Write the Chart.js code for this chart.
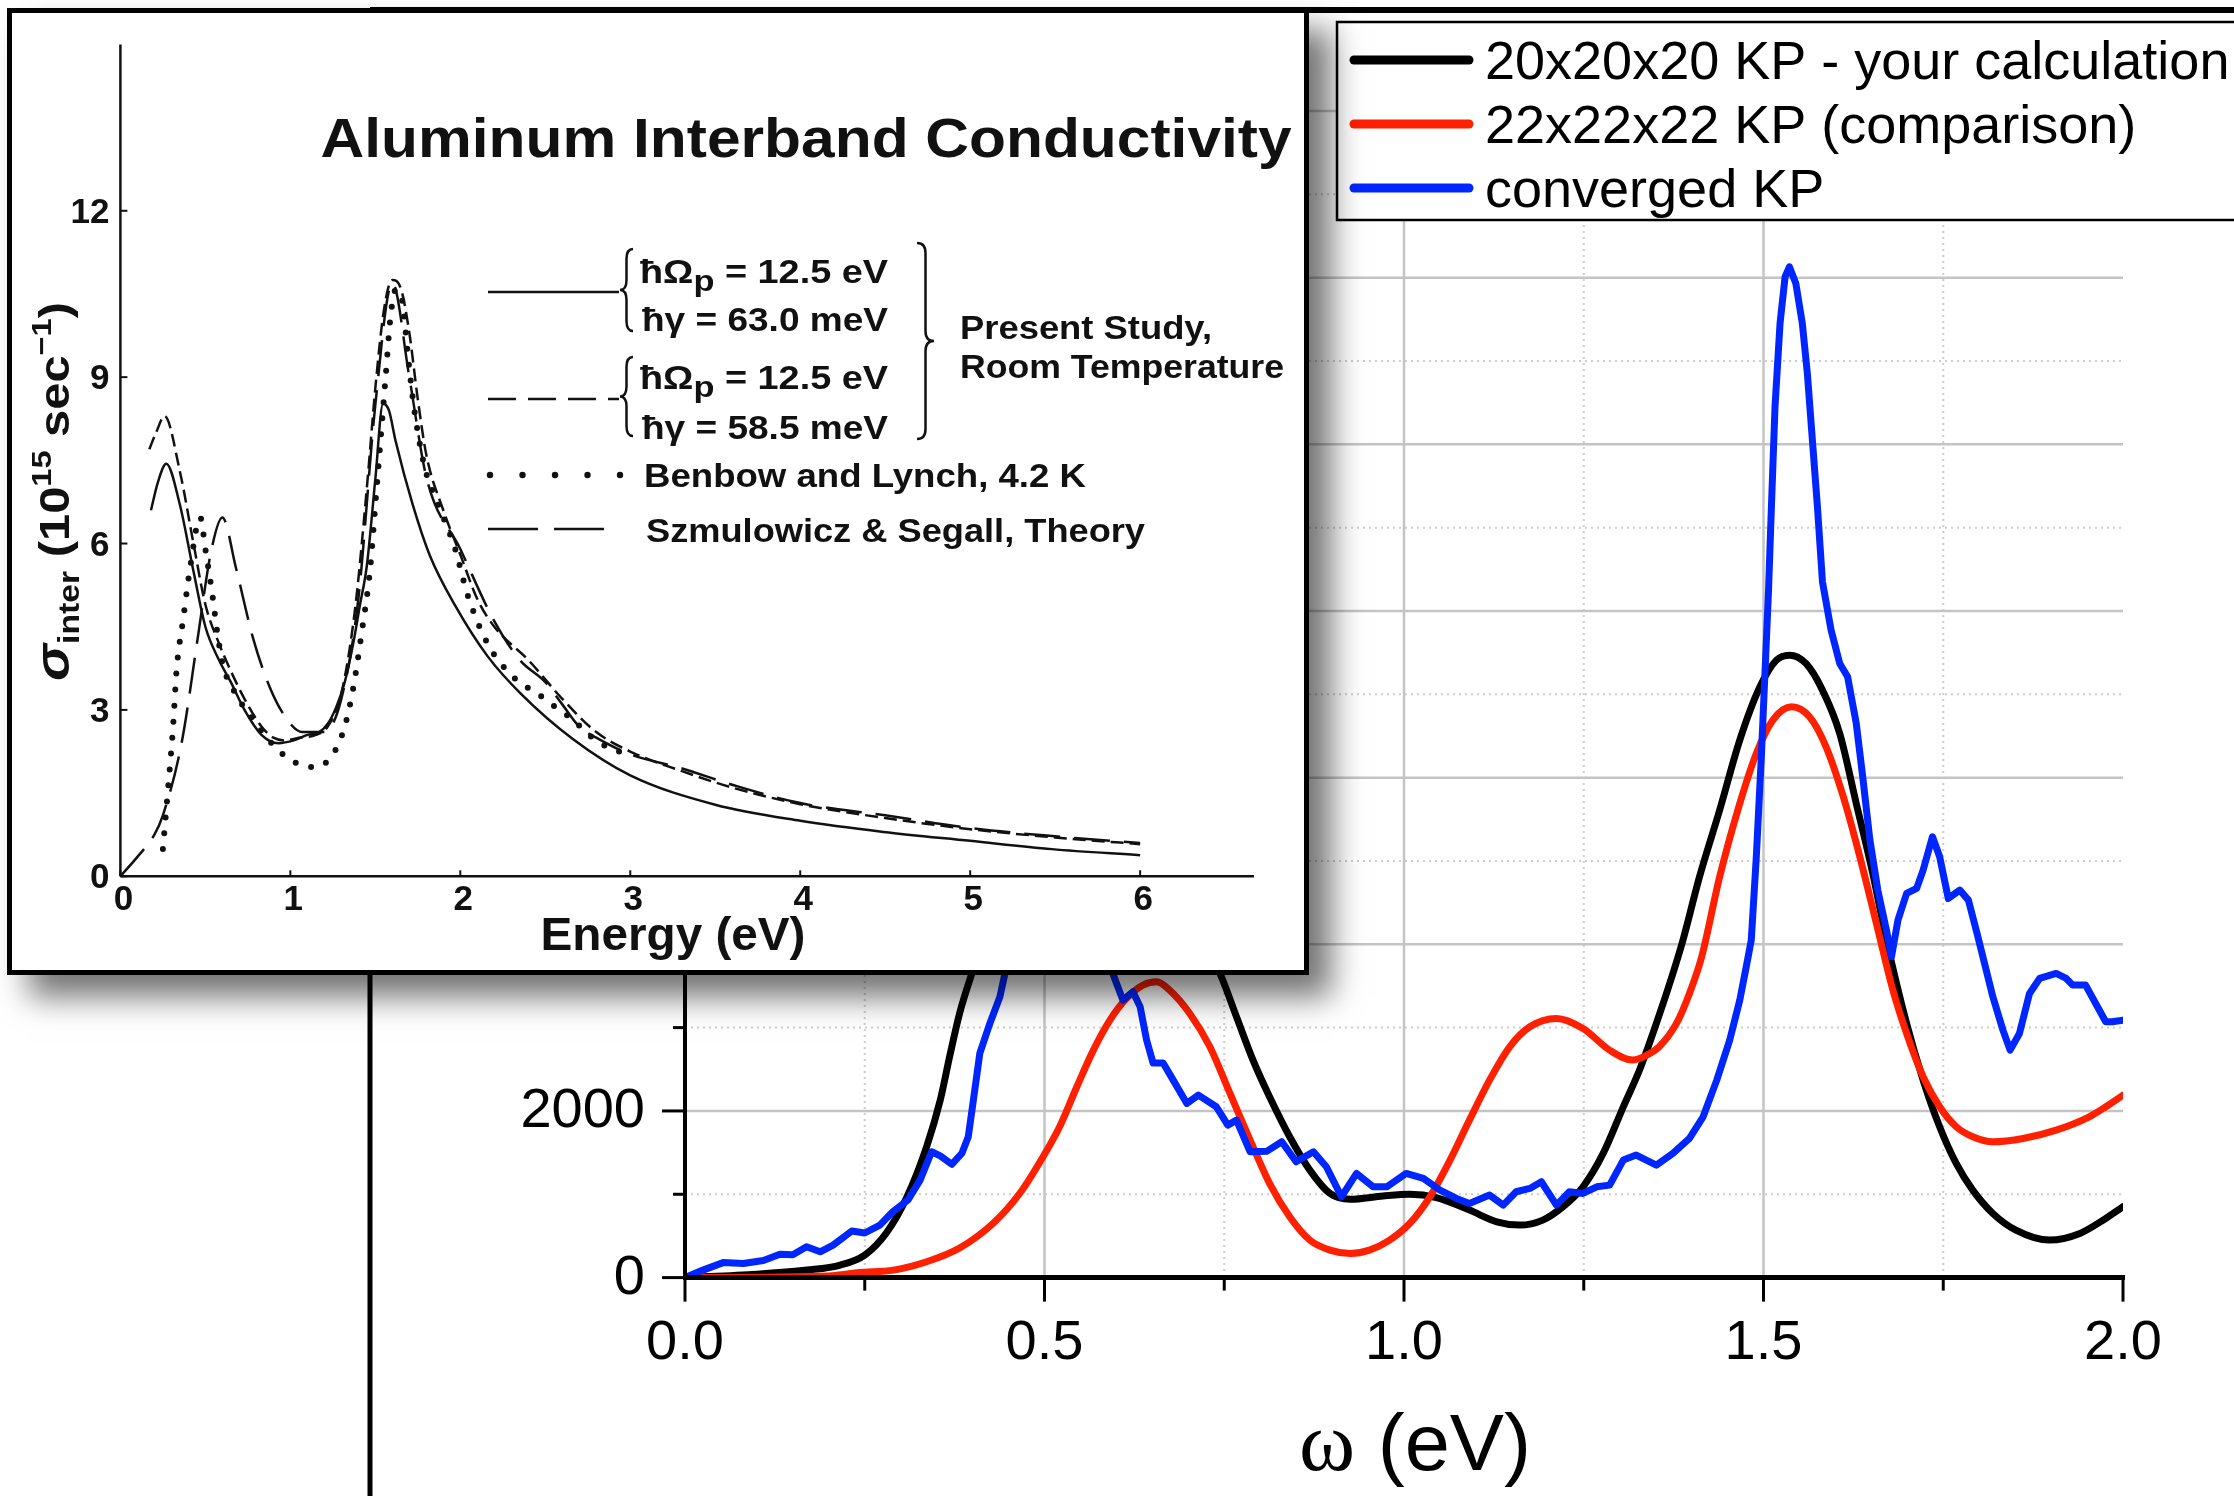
<!DOCTYPE html>
<html><head><meta charset="utf-8">
<script src="https://cdn.jsdelivr.net/npm/chart.js@4.4.1/dist/chart.umd.min.js"></script>
<style>
html,body{margin:0;padding:0;background:#fff;overflow:hidden;width:2234px;height:1496px;}
#main{position:absolute;left:0;top:0;}
#insetBox{position:absolute;left:7px;top:8px;width:1302px;height:967px;box-sizing:border-box;border:5px solid #000;background:#fff;box-shadow:22px 22px 30px rgba(0,0,0,0.55);}
#inset{position:absolute;left:0;top:0;}
</style></head><body>
<canvas id="main" width="2234" height="1496"></canvas>
<div id="insetBox"><canvas id="inset" width="1292" height="957"></canvas></div>
<script>
// ---------------- MAIN CHART DATA ----------------
const seriesNames = ['20x20x20 KP - your calculation', '22x22x22 KP (comparison)', 'converged KP'];

const blackX = [0, 0.1, 0.17, 0.216, 0.25, 0.28, 0.308, 0.336, 0.355, 0.368, 0.382, 0.399, 0.43, 0.47, 0.52, 0.57, 0.62, 0.67, 0.71, 0.744, 0.767, 0.79, 0.813, 0.841, 0.869, 0.897, 0.925, 0.971, 1.008, 1.045, 1.091, 1.129, 1.161, 1.193, 1.221, 1.249, 1.277, 1.305, 1.328, 1.351, 1.374, 1.388, 1.411, 1.439, 1.467, 1.495, 1.518, 1.536, 1.559, 1.582, 1.606, 1.629, 1.652, 1.671, 1.699, 1.722, 1.745, 1.768, 1.791, 1.819, 1.851, 1.898, 1.94, 1.976, 2.0];
const blackY = [0, 40, 90, 150, 270, 535, 955, 1570, 2130, 2650, 3175, 3650, 4400, 5400, 6100, 6300, 5900, 4900, 4200, 3650, 3130, 2610, 2170, 1690, 1290, 1010, 940, 980, 1000, 960, 810, 670, 630, 690, 850, 1090, 1490, 2050, 2500, 3050, 3650, 4050, 4810, 5610, 6450, 7090, 7410, 7470, 7370, 7050, 6530, 5690, 4850, 4050, 3050, 2370, 1810, 1370, 1050, 770, 570, 450, 530, 710, 850];

const redX = [0, 0.2, 0.243, 0.29, 0.336, 0.382, 0.429, 0.466, 0.498, 0.521, 0.545, 0.568, 0.591, 0.614, 0.637, 0.656, 0.674, 0.702, 0.73, 0.758, 0.786, 0.813, 0.841, 0.869, 0.897, 0.925, 0.952, 0.98, 1.008, 1.036, 1.064, 1.091, 1.119, 1.147, 1.175, 1.212, 1.249, 1.286, 1.318, 1.342, 1.355, 1.379, 1.397, 1.414, 1.439, 1.467, 1.49, 1.513, 1.539, 1.564, 1.587, 1.611, 1.634, 1.657, 1.68, 1.699, 1.722, 1.745, 1.768, 1.791, 1.819, 1.861, 1.907, 1.953, 1.976, 2.0];
const redY = [0, 20, 60, 90, 190, 355, 655, 1015, 1450, 1810, 2290, 2730, 3090, 3350, 3510, 3550, 3450, 3170, 2770, 2210, 1650, 1130, 730, 450, 330, 290, 330, 450, 650, 970, 1410, 1890, 2370, 2770, 3010, 3110, 2990, 2730, 2610, 2690, 2770, 3050, 3410, 3850, 4810, 5690, 6290, 6690, 6850, 6730, 6370, 5770, 5050, 4250, 3450, 2930, 2410, 2050, 1810, 1690, 1630, 1670, 1770, 1930, 2050, 2190];

const blueX = [0, 0.025, 0.053, 0.081, 0.109, 0.132, 0.15, 0.169, 0.188, 0.206, 0.232, 0.25, 0.271, 0.289, 0.31, 0.327, 0.343, 0.355, 0.371, 0.385, 0.394, 0.403, 0.41, 0.424, 0.438, 0.445, 0.47, 0.5, 0.53, 0.56, 0.58, 0.595, 0.609, 0.623, 0.633, 0.642, 0.651, 0.665, 0.679, 0.698, 0.714, 0.739, 0.755, 0.767, 0.786, 0.809, 0.83, 0.85, 0.874, 0.892, 0.913, 0.934, 0.957, 0.976, 1.003, 1.027, 1.05, 1.073, 1.091, 1.119, 1.138, 1.156, 1.175, 1.191, 1.212, 1.23, 1.249, 1.268, 1.286, 1.305, 1.323, 1.351, 1.374, 1.397, 1.416, 1.435, 1.453, 1.467, 1.476, 1.483, 1.49, 1.497, 1.503, 1.507, 1.511, 1.516, 1.523, 1.53, 1.536, 1.545, 1.554, 1.561, 1.568, 1.575, 1.582, 1.594, 1.606, 1.617, 1.629, 1.638, 1.648, 1.659, 1.671, 1.678, 1.687, 1.699, 1.713, 1.722, 1.735, 1.745, 1.757, 1.773, 1.785, 1.797, 1.819, 1.833, 1.843, 1.856, 1.87, 1.884, 1.907, 1.921, 1.93, 1.948, 1.962, 1.976, 1.985, 2.0];
const blueY = [0, 90, 180, 170, 205, 280, 275, 370, 310, 390, 560, 535, 630, 790, 930, 1170, 1510, 1460, 1360, 1490, 1690, 2250, 2690, 3050, 3370, 3650, 5200, 7000, 7300, 6000, 4500, 3650, 3330, 3430, 3250, 2850, 2575, 2575, 2370, 2090, 2190, 2050, 1830, 1890, 1510, 1515, 1630, 1390, 1510, 1330, 970, 1250, 1090, 1090, 1250, 1190, 1050, 950, 890, 990, 870, 1030, 1070, 1150, 870, 1030, 1010, 1090, 1110, 1410, 1470, 1350, 1490, 1670, 1930, 2370, 2850, 3330, 3730, 4050, 5050, 6250, 7450, 8250, 9250, 10450, 11450, 12010, 12130, 11930, 11450, 10850, 10050, 9250, 8350, 7770, 7370, 7210, 6650, 6010, 5250, 4650, 4170, 3850, 4290, 4610, 4670, 4890, 5290, 5050, 4550, 4650, 4530, 4130, 3370, 2970, 2730, 2930, 3410, 3590, 3650, 3590, 3510, 3510, 3290, 3070, 3070, 3090];

const mainXTicks = [0, 0.25, 0.5, 0.75, 1.0, 1.25, 1.5, 1.75, 2.0];
const mainXLabels = ['0.0', '', '0.5', '', '1.0', '', '1.5', '', '2.0'];
const mainYTicks = [0, 1000, 2000, 3000, 4000, 5000, 6000, 7000, 8000, 9000, 10000, 11000, 12000, 13000, 14000];
const mainYLabels = ['0', '', '2000', '', '4000', '', '6000', '', '8000', '', '10000', '', '12000', '', '14000'];

// ---------------- INSET (scanned figure) DATA ----------------
const insetNames = ['Present Study 63.0 meV', 'Present Study 58.5 meV', 'Benbow and Lynch, 4.2 K', 'Szmulowicz & Segall, Theory'];
const p63X = [0.18, 0.22, 0.27, 0.35, 0.43, 0.5, 0.58, 0.65, 0.73, 0.83, 0.93, 1.02, 1.1, 1.17, 1.22, 1.27, 1.32, 1.37, 1.41, 1.45, 1.5, 1.545, 1.58, 1.62, 1.72, 1.82, 1.97, 2.16, 2.36, 2.66, 3.0, 3.5, 4.0, 4.49, 5.0, 5.48, 6.0];
const p63Y = [6.6, 7.1, 7.44, 6.7, 5.5, 4.5, 3.9, 3.5, 3.0, 2.55, 2.4, 2.45, 2.55, 2.6, 2.75, 3.05, 3.5, 4.2, 4.9, 5.6, 7.16, 8.52, 8.4, 7.84, 6.7, 5.79, 4.88, 3.97, 3.28, 2.48, 1.82, 1.29, 1.0, 0.8, 0.64, 0.49, 0.38];
const p58X = [0.17, 0.21, 0.26, 0.35, 0.43, 0.5, 0.58, 0.65, 0.73, 0.83, 0.9, 0.97, 1.05, 1.15, 1.22, 1.3, 1.38, 1.45, 1.5, 1.55, 1.6, 1.65, 1.7, 1.75, 1.8, 1.9, 2.0, 2.1, 2.2, 2.4, 2.6, 2.8, 3.0, 3.3, 3.6, 4.0, 4.5, 5.0, 5.5, 6.0];
const p58Y = [7.7, 8.0, 8.3, 7.3, 6.0, 4.9, 4.2, 3.7, 3.2, 2.7, 2.5, 2.45, 2.5, 2.55, 2.7, 3.3, 4.8, 7.0, 8.8, 10.2, 10.75, 10.6, 9.8, 8.6, 7.6, 6.6, 5.8, 5.0, 4.5, 3.9, 3.2, 2.6, 2.25, 1.9, 1.6, 1.3, 1.05, 0.85, 0.7, 0.58];
const benX = [0.25, 0.28, 0.31, 0.33, 0.37, 0.41, 0.47, 0.5, 0.54, 0.57, 0.6, 0.68, 0.78, 0.88, 0.98, 1.07, 1.15, 1.25, 1.32, 1.37, 1.42, 1.47, 1.5, 1.53, 1.56, 1.59, 1.62, 1.66, 1.69, 1.73, 1.79, 1.87, 1.97, 2.04, 2.16, 2.31, 2.46, 2.56, 2.66, 2.76, 2.88, 3.0];
const benY = [0.49, 1.57, 2.7, 3.7, 4.65, 5.56, 6.47, 5.9, 5.1, 4.4, 3.85, 3.28, 2.83, 2.43, 2.14, 2.0, 1.97, 2.2, 2.7, 3.4, 4.4, 5.56, 6.7, 7.84, 8.98, 10.1, 10.58, 10.35, 9.44, 8.4, 7.38, 6.7, 5.9, 5.1, 4.2, 3.6, 3.28, 3.05, 2.83, 2.54, 2.31, 2.2];
const thX = [0, 0.1, 0.2, 0.25, 0.36, 0.46, 0.53, 0.6, 0.68, 0.78, 0.88, 0.98, 1.07, 1.2, 1.3, 1.4, 1.5, 1.6, 1.7, 1.8, 2.0, 2.2, 2.35, 2.5, 2.6, 2.7, 2.8, 3.0, 3.3, 3.6, 4.0, 4.5, 5.0, 5.5, 6.0];
const thY = [0, 0.35, 0.75, 1.1, 2.4, 4.4, 5.8, 6.47, 5.56, 4.3, 3.4, 2.83, 2.6, 2.6, 3.2, 5.0, 8.5, 10.7, 9.0, 7.2, 5.9, 4.6, 3.9, 3.5, 3.1, 2.7, 2.5, 2.2, 1.95, 1.65, 1.32, 1.1, 0.87, 0.72, 0.6];
const insetXTicks = [0, 1, 2, 3, 4, 5, 6];
const insetYTicks = [0, 3, 6, 9, 12];

// ---------------- helpers ----------------
const SANS = "'Liberation Sans', Arial, Helvetica, sans-serif";
const SERIF = "'Liberation Serif', 'Times New Roman', serif";
function pts(xs, ys) { return xs.map((x, i) => ({ x: x, y: ys[i] })); }
function drawRuns(ctx, runs, x, y, targetW, align) {
  ctx.save();
  let total = 0;
  runs.forEach(r => { ctx.font = r.font; r.w = ctx.measureText(r.t).width; total += r.w; });
  const s = targetW ? targetW / total : 1;
  ctx.translate(x, y);
  if (align === 'center') ctx.translate(-total * s / 2, 0);
  if (align === 'right') ctx.translate(-total * s, 0);
  ctx.scale(s, 1);
  ctx.textBaseline = 'alphabetic';
  ctx.textAlign = 'left';
  let cx = 0;
  runs.forEach(r => { ctx.font = r.font; ctx.fillText(r.t, cx, r.dy || 0); cx += r.w; });
  ctx.restore();
}
function line(ctx, x0, y0, x1, y1) { ctx.beginPath(); ctx.moveTo(x0, y0); ctx.lineTo(x1, y1); ctx.stroke(); }

// ---------------- main chart plugin ----------------
const mainDecor = {
  id: 'mainDecor',
  beforeDatasetsDraw(chart) {
    const { ctx, chartArea: a, scales: { x, y } } = chart;
    ctx.save();
    mainXTicks.forEach((v, i) => {
      if (v === 0 || v === 2) return;
      const major = mainXLabels[i] !== '';
      const px = x.getPixelForValue(v);
      ctx.strokeStyle = major ? '#c4c4c4' : '#cdcdcd';
      ctx.lineWidth = major ? 2.5 : 2;
      ctx.setLineDash(major ? [] : [2, 4]);
      line(ctx, px, a.top, px, a.bottom);
    });
    mainYTicks.forEach((v, i) => {
      if (v === 0) return;
      const major = mainYLabels[i] !== '';
      const py = y.getPixelForValue(v);
      ctx.strokeStyle = major ? '#c4c4c4' : '#cdcdcd';
      ctx.lineWidth = major ? 2.5 : 2;
      ctx.setLineDash(major ? [] : [2, 4]);
      line(ctx, a.left, py, a.right, py);
    });
    ctx.restore();
  },
  afterDatasetsDraw(chart) {
    const { ctx, chartArea: a, scales: { x, y } } = chart;
    ctx.save();
    ctx.strokeStyle = '#000';
    ctx.fillStyle = '#000';
    ctx.lineWidth = 4;
    line(ctx, a.left, a.top, a.left, a.bottom + 2);
    ctx.lineWidth = 5;
    line(ctx, a.left - 2, a.bottom, a.right + 2, a.bottom);
    ctx.lineWidth = 3;
    mainXTicks.forEach((v, i) => {
      const px = x.getPixelForValue(v);
      line(ctx, px, a.bottom, px, a.bottom + (mainXLabels[i] ? 24 : 13));
    });
    mainYTicks.forEach((v, i) => {
      const py = y.getPixelForValue(v);
      line(ctx, a.left, py, a.left - (mainYLabels[i] ? 23 : 12), py);
    });
    ctx.font = '56px ' + SANS;
    ctx.textBaseline = 'alphabetic';
    ctx.textAlign = 'center';
    mainXTicks.forEach((v, i) => { if (mainXLabels[i]) ctx.fillText(mainXLabels[i], x.getPixelForValue(v), a.bottom + 81); });
    ctx.textAlign = 'right';
    mainYTicks.forEach((v, i) => { if (mainYLabels[i]) ctx.fillText(mainYLabels[i], a.left - 40, y.getPixelForValue(v) + 16); });
    ctx.restore();
  },
  afterDraw(chart) {
    const { ctx } = chart;
    ctx.save();
    drawRuns(ctx, [{ t: 'ω', font: '84px ' + SERIF }, { t: ' (eV)', font: '80px ' + SANS }], 1299, 1470, 232);
    ctx.strokeStyle = '#000';
    ctx.lineWidth = 6;
    line(ctx, 370, 10, 2240, 10);
    ctx.lineWidth = 5;
    line(ctx, 370, 8, 370, 1500);
    ctx.fillStyle = '#fff';
    ctx.fillRect(1337, 22, 910, 198);
    ctx.lineWidth = 2.5;
    ctx.strokeRect(1337, 22, 910, 198);
    const cols = ['#000000', '#ff2000', '#0026ff'];
    const ys = [60, 124, 188];
    seriesNames.forEach((n, i) => {
      ctx.strokeStyle = cols[i];
      ctx.lineWidth = 9;
      ctx.lineCap = 'round';
      line(ctx, 1354, ys[i], 1469, ys[i]);
      ctx.fillStyle = '#000';
      ctx.font = '54px ' + SANS;
      ctx.textAlign = 'left';
      ctx.textBaseline = 'alphabetic';
      ctx.fillText(n, 1485, ys[i] + 19);
    });
    ctx.restore();
  }
};

new Chart(document.getElementById('main'), {
  type: 'line',
  data: {
    datasets: [
      { label: seriesNames[0], data: pts(blackX, blackY), borderColor: '#000000', borderWidth: 7, order: 3, cubicInterpolationMode: 'monotone' },
      { label: seriesNames[1], data: pts(redX, redY), borderColor: '#ff2000', borderWidth: 7, order: 2, cubicInterpolationMode: 'monotone' },
      { label: seriesNames[2], data: pts(blueX, blueY), borderColor: '#0026ff', borderWidth: 7, order: 1, tension: 0 }
    ]
  },
  options: {
    responsive: false, animation: false, devicePixelRatio: 1,
    layout: { padding: { left: 685, right: 2234 - 2123, top: 111, bottom: 1496 - 1277.6 } },
    plugins: { legend: { display: false }, tooltip: { enabled: false } },
    elements: { point: { radius: 0 }, line: { borderJoinStyle: 'round', borderCapStyle: 'round', fill: false } },
    scales: {
      x: { type: 'linear', min: 0, max: 2, display: false },
      y: { type: 'linear', min: 0, max: 14000, display: false }
    }
  },
  plugins: [mainDecor]
});

// ---------------- inset plugin ----------------
function brace(ctx, x, top, bot, w, pointLeft) {
  const mid = (top + bot) / 2, r = Math.min(10, (bot - top) / 6);
  const tip = pointLeft ? x : x + w, end = pointLeft ? x + w : x, sp = x + w / 2;
  ctx.beginPath();
  ctx.moveTo(end, top);
  ctx.quadraticCurveTo(sp, top, sp, top + r);
  ctx.lineTo(sp, mid - r);
  ctx.quadraticCurveTo(sp, mid, tip, mid);
  ctx.quadraticCurveTo(sp, mid, sp, mid + r);
  ctx.lineTo(sp, bot - r);
  ctx.quadraticCurveTo(sp, bot, end, bot);
  ctx.stroke();
}
const insetDecor = {
  id: 'insetDecor',
  afterDraw(chart) {
    const { ctx, chartArea: a, scales: { x, y } } = chart;
    ctx.save();
    ctx.strokeStyle = '#111';
    ctx.fillStyle = '#111';
    ctx.lineWidth = 2.5;
    line(ctx, a.left, a.top, a.left, a.bottom);
    line(ctx, a.left, a.bottom, a.right, a.bottom);
    ctx.lineWidth = 2;
    insetYTicks.forEach(v => { const py = y.getPixelForValue(v); line(ctx, a.left, py, a.left + 7, py); });
    insetXTicks.forEach(v => { const px = x.getPixelForValue(v); line(ctx, px, a.bottom, px, a.bottom - 6); });
    ctx.font = 'bold 35px ' + SANS;
    ctx.textAlign = 'right';
    ctx.textBaseline = 'alphabetic';
    insetYTicks.forEach(v => ctx.fillText(String(v), a.left - 11, y.getPixelForValue(v) + 12));
    ctx.textAlign = 'center';
    insetXTicks.forEach(v => ctx.fillText(String(v), x.getPixelForValue(v) + 3, 897));
    drawRuns(ctx, [{ t: 'Aluminum Interband Conductivity', font: 'bold 56px ' + SANS }], 308.6, 143.6, 971);
    drawRuns(ctx, [{ t: 'Energy (eV)', font: 'bold 46px ' + SANS }], 661, 937, 265, 'center');
    ctx.save();
    ctx.translate(57, 668);
    ctx.rotate(-Math.PI / 2);
    drawRuns(ctx, [
      { t: 'σ', font: 'italic bold 48px ' + SANS },
      { t: 'inter', font: 'bold 29px ' + SANS, dy: 10 },
      { t: ' (10', font: 'bold 42px ' + SANS },
      { t: '15', font: 'bold 28px ' + SANS, dy: -18 },
      { t: ' sec', font: 'bold 42px ' + SANS },
      { t: '−1', font: 'bold 28px ' + SANS, dy: -18 },
      { t: ')', font: 'bold 42px ' + SANS }
    ], 0, 0, 379);
    ctx.restore();
    ctx.lineWidth = 2.5;
    ctx.setLineDash([]);
    line(ctx, 476, 279, 607, 279);
    ctx.setLineDash([28, 12]);
    line(ctx, 476, 386, 607, 386);
    ctx.setLineDash([50, 16]);
    line(ctx, 476, 516, 607, 516);
    ctx.setLineDash([]);
    for (let i = 0; i < 5; i++) { ctx.beginPath(); ctx.arc(478 + i * 32.5, 462, 3.2, 0, Math.PI * 2); ctx.fill(); }
    brace(ctx, 608, 236, 318, 13, true);
    brace(ctx, 608, 344, 423, 13, true);
    brace(ctx, 905, 230, 426, 17, false);
    const B = 'bold 33px ' + SANS, Bs = 'bold 30px ' + SANS;
    drawRuns(ctx, [{ t: 'ħΩ', font: B }, { t: 'p', font: Bs, dy: 8 }, { t: ' = 12.5 eV', font: B }], 628, 270, 248);
    drawRuns(ctx, [{ t: 'ħγ = 63.0 meV', font: B }], 630, 317.6, 246);
    drawRuns(ctx, [{ t: 'ħΩ', font: B }, { t: 'p', font: Bs, dy: 8 }, { t: ' = 12.5 eV', font: B }], 628, 376, 248);
    drawRuns(ctx, [{ t: 'ħγ = 58.5 meV', font: B }], 630, 426, 246);
    drawRuns(ctx, [{ t: 'Present Study,', font: B }], 948, 326, 252);
    drawRuns(ctx, [{ t: 'Room Temperature', font: B }], 948, 365, 324);
    drawRuns(ctx, [{ t: 'Benbow and Lynch, 4.2 K', font: B }], 632, 474, 442);
    drawRuns(ctx, [{ t: 'Szmulowicz & Segall, Theory', font: B }], 634, 529, 499);
    ctx.restore();
  }
};

new Chart(document.getElementById('inset'), {
  type: 'line',
  data: {
    datasets: [
      { label: insetNames[0], data: pts(p63X, p63Y), borderColor: '#111', borderWidth: 2.5, cubicInterpolationMode: 'monotone' },
      { label: insetNames[1], data: pts(p58X, p58Y), borderColor: '#111', borderWidth: 2.5, borderDash: [13, 6], cubicInterpolationMode: 'monotone' },
      { label: insetNames[2], data: pts(benX, benY), borderColor: '#111', borderWidth: 6, borderDash: [0, 16], borderCapStyle: 'round', cubicInterpolationMode: 'monotone' },
      { label: insetNames[3], data: pts(thX, thY), borderColor: '#111', borderWidth: 2.5, borderDash: [36, 14], cubicInterpolationMode: 'monotone' }
    ]
  },
  options: {
    responsive: false, animation: false, devicePixelRatio: 1,
    layout: { padding: { left: 108.4, right: 50, top: 31.4, bottom: 93.7 } },
    plugins: { legend: { display: false }, tooltip: { enabled: false } },
    elements: { point: { radius: 0 }, line: { fill: false } },
    scales: {
      x: { type: 'linear', min: 0, max: 6.67, display: false },
      y: { type: 'linear', min: 0, max: 15, display: false }
    }
  },
  plugins: [insetDecor]
});
</script>
</body></html>
